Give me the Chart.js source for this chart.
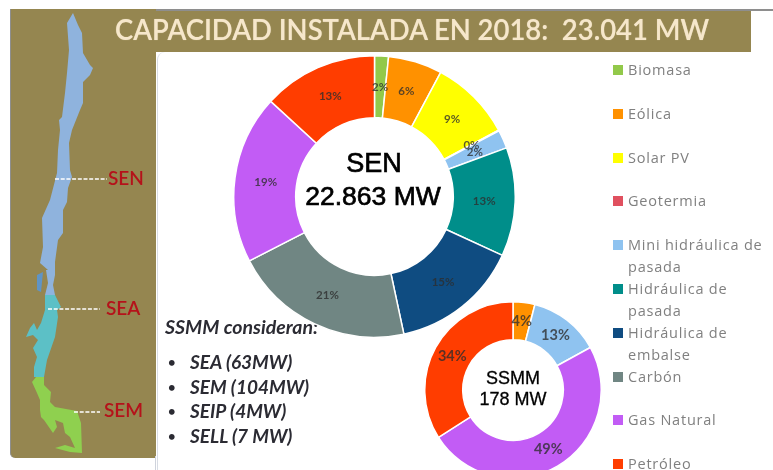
<!DOCTYPE html>
<html lang="es">
<head>
<meta charset="utf-8">
<script src="https://cdn.jsdelivr.net/npm/chart.js@4"></script>
<style>
html,body{margin:0;padding:0;width:773px;height:470px;overflow:hidden;background:#fff}
.abs{position:absolute;white-space:nowrap}
#stage{position:absolute;left:0;top:0;width:773px;height:470px;overflow:hidden;filter:blur(.35px)}
#title{left:115px;top:9px;height:40px;font:600 29px/40px Lato,sans-serif;color:#f6e7cb;transform-origin:0 50%;transform:scaleX(.946);text-shadow:0 0 1px rgba(246,231,203,.6)}
.region{font:600 19px/22px Lato,sans-serif;color:#b5121a}
.note{font:italic 700 19px/22px Lato,sans-serif;color:#2b2b33}
.bullet{font:700 13px/22px Lato,sans-serif;color:#2b2b33}
.center{font-family:"Liberation Sans",Arial,sans-serif;color:#000;text-align:center;transform:translateX(-50%);-webkit-text-stroke:.7px #000}
.leg{font:14.5px/22px "Open Sans",sans-serif;color:#808080;letter-spacing:.78px}
.sw{position:absolute;width:10px;height:10px}
canvas{position:absolute}
</style>
</head>
<body>
<div id="stage">
  <div class="abs" style="left:10px;top:9px;width:741px;height:43px;background:#958650"></div>
  <div class="abs" style="left:10px;top:9px;width:763px;height:2px;background:#8e8e8e"></div>
  <div class="abs" style="left:10px;top:9px;width:146px;height:449px;background:#958650;border-left:1px solid #8e8e8e;box-sizing:border-box;border-bottom-left-radius:5px"></div>
  <div class="abs" style="left:157px;top:52px;width:616px;height:418px;background:#fff;border-top-left-radius:8px;border-left:1px solid #d8dce4;box-sizing:border-box"></div>
  <div class="abs" style="left:155px;top:456px;width:1px;height:14px;background:#cfd3dc"></div>
  <svg class="abs" style="left:0;top:0" width="160" height="470" viewBox="0 0 160 470">
    <path fill="#8fb3dd" d="M73 13L78 25L82 33L83 53L90 65L93 68L90 75L83 82L83 103L80 110L72 130L69 143L70 170L72 177L68 188L67 202L63 210L63 233L58 240L55 262L55 275L53 285L55 295L45 295L48 283L46 270L48 270L40 263L43 247L42 218L50 200L57 173L58 150L60 130L59 120L62 117L65 93L67 73L69 50L67 23Z"/>
    <path fill="#5f94c6" d="M37 275L43 272L41 292L37 290Z"/>
    <path fill="#5cc0c6" d="M45 295L55 295L61 307L57 310L58 317L55 337L47 360L44 377L34 377L34 367L37 357L33 348L38 340L33 335L26 337L30 328L34 323L37 330L41 323L45 310Z"/>
    <path fill="#8fd04f" d="M36 377L44 377L44 385L51 392L50 402L55 407L77 411L81 423L82 453L70 452L55 448L65 445L75 448L70 437L65 433L63 423L55 420L57 427L53 433L44 420L41 417L40 410L40 400L37 393L32 382Z"/>
    <g stroke="#fff" stroke-width="1.3" stroke-dasharray="4 1.7">
      <path d="M55 179H107"/><path d="M48 309H100"/><path d="M74 412H100"/>
    </g>
  </svg>
  <div class="abs region" style="left:108px;top:167px">SEN</div>
  <div class="abs region" style="left:106px;top:297px">SEA</div>
  <div class="abs region" style="left:104px;top:399px">SEM</div>
  <div id="title" class="abs">CAPACIDAD INSTALADA EN 2018:&nbsp; 23.041 MW</div>
  <div id="notes"></div>
  <canvas id="sen" width="283" height="283" style="left:233px;top:55px;width:283px;height:283px"></canvas>
  <canvas id="ssmm" width="178" height="178" style="left:424px;top:301px;width:178px;height:178px"></canvas>
  <div class="abs center" style="left:374px;top:146px;font-size:27px;line-height:34px">SEN</div>
  <div class="abs center" style="left:373px;top:179px;font-size:26.5px;line-height:34px">22.863 MW</div>
  <div class="abs center" style="left:513px;top:367px;font-size:18px;line-height:22px;-webkit-text-stroke:.3px #000">SSMM</div>
  <div class="abs center" style="left:513px;top:388px;font-size:18px;line-height:22px;-webkit-text-stroke:.3px #000">178 MW</div>
  <div id="legend"></div>
</div>
<script>
const categories = ["Biomasa","Eólica","Solar PV","Geotermia","Mini hidráulica de pasada","Hidráulica de pasada","Hidráulica de embalse","Carbón","Gas Natural","Petróleo"];
const colors = ["#92c94a","#ff9100","#ffff00","#e0505f","#8fc3f0","#008e8a","#0f4c81","#708683","#c25cf5","#ff3d00"];
const senValues = [1.6,6.2,9.4,0.1,2.1,12.5,14.8,20.8,19.4,13.2];
const ssmmCategories = ["Eólica","Mini hidráulica de pasada","Gas Natural","Petróleo"];
const ssmmColors = ["#ff9100","#8fc3f0","#c25cf5","#ff3d00"];
const ssmmValues = [4,13,49,34];
const legendLines = [["Biomasa"],["Eólica"],["Solar PV"],["Geotermia"],["Mini hidráulica de","pasada"],["Hidráulica de","pasada"],["Hidráulica de","embalse"],["Carbón"],["Gas Natural"],["Petróleo"]];
const notes = ["SEA (63MW)","SEM (104MW)","SEIP (4MW)","SELL (7 MW)"];

const percentLabels = font => ({
  id:'percentLabels',
  afterDatasetsDraw(chart){
    const {ctx}=chart, meta=chart.getDatasetMeta(0), data=chart.data.datasets[0].data;
    ctx.save();
    ctx.font=font; ctx.fillStyle='rgba(45,45,45,.78)';
    ctx.textAlign='center'; ctx.textBaseline='middle';
    meta.data.forEach((arc,i)=>{
      const p=arc.tooltipPosition();
      ctx.fillText(Math.round(data[i])+'%',p.x,p.y);
    });
    ctx.restore();
  }
});
const donut=(id,labels,values,cols,cutout,font)=>new Chart(document.getElementById(id),{
  type:'doughnut',
  data:{labels,datasets:[{data:values,backgroundColor:cols,borderColor:'#fff',borderWidth:1.5,hoverOffset:0}]},
  options:{responsive:false,animation:false,cutout,radius:'100%',layout:{padding:0},
    plugins:{legend:{display:false},tooltip:{enabled:false}},events:[]},
  plugins:[percentLabels(font)]
});
donut('sen',categories,senValues,colors,'56%','700 11.5px Lato, sans-serif');
donut('ssmm',ssmmCategories,ssmmValues,ssmmColors,'57%','700 14.5px Lato, sans-serif');

const stage=document.getElementById('notes');
let h='<div class="abs note" style="left:165px;top:316px;font-size:19.5px">SSMM consideran:</div>';
notes.forEach((n,i)=>{
  const y=351+i*24.7;
  h+=`<div class="abs bullet" style="left:168px;top:${y}px">•</div><div class="abs note" style="left:190px;top:${y}px">${n}</div>`;
});
stage.innerHTML=h;

const leg=document.getElementById('legend');
let l='';
const step=43.8;
legendLines.forEach((lines,i)=>{
  const y=70+i*step;
  l+=`<div class="sw" style="left:613px;top:${y-5}px;background:${colors[i]}"></div>`;
  lines.forEach((t,j)=>{l+=`<div class="abs leg" style="left:628px;top:${y-11+j*21.7}px">${t}</div>`;});
});
leg.innerHTML=l;
</script>
</body>
</html>
